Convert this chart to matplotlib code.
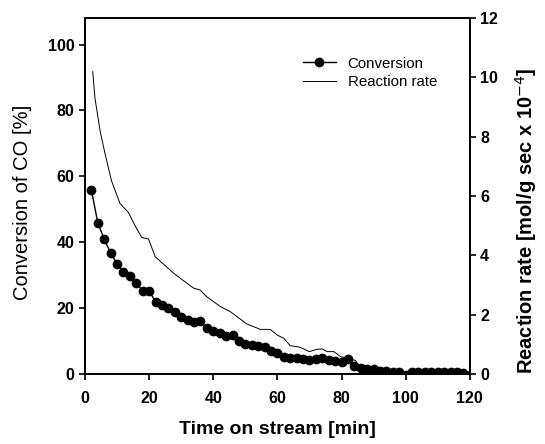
import numpy as np
import matplotlib
matplotlib.use("Agg")
import matplotlib.pyplot as plt

plt.rcParams.update({
    "font.family": ["Liberation Sans", "DejaVu Sans"],
    "font.size": 10,
})

# conversion of CO [%], one point every 2 min
t_conv = np.arange(2, 122, 2)
conversion = [55.8, 45.8, 40.9, 36.7, 33.4, 30.8, 29.8, 27.5, 25.2, 25.2,
              21.9, 20.9, 19.9, 18.9, 17.4, 16.4, 15.8, 16.0, 13.8, 13.1,
              12.3, 11.5, 11.8, 10.0, 9.2, 8.8, 8.4, 8.3, 7.0, 6.4,
              5.2, 4.8, 4.8, 4.4, 4.2, 4.5, 4.8, 4.2, 3.8, 3.6,
              4.6, 2.4, 1.8, 1.6, 1.5, 1.0, 0.8, 0.6, 0.5, -0.2,
              0.5, 0.6, 0.6, 0.7, 0.6, 0.6, 0.5, 0.6, 0.3, -0.2]

# reaction rate [mol/g sec x 10^-4]
t_rate = [2.4, 3.1, 4.7, 6.3, 8.3, 10.9, 13.5, 15.6, 17.7, 19.8, 21.9, 24.5,
          27.6, 30.0, 33.9, 35.9, 38.0, 42.2, 45.3, 47.4, 50.5, 54.7, 57.8,
          59.9, 62.0, 64.0, 67.0, 70.0, 72.4, 74.0, 75.5, 77.6, 79.7, 81.8,
          84.4, 86.0, 90.0, 100.0, 110.0, 120.0]
rate = [10.2, 9.3, 8.2, 7.4, 6.5, 5.75, 5.45, 5.0, 4.6, 4.55, 3.95, 3.7,
        3.4, 3.2, 2.89, 2.83, 2.6, 2.27, 2.1, 1.93, 1.68, 1.5, 1.5,
        1.31, 1.2, 0.95, 0.9, 0.75, 0.83, 0.84, 0.75, 0.75, 0.58, 0.53,
        0.45, 0.15, 0.1, 0.05, 0.05, 0.02]

fig = plt.figure(figsize=(5.45, 4.44), dpi=100)
ax = fig.add_axes([0.156, 0.158, 0.706, 0.801])
ax2 = ax.twinx()

l1, = ax.plot(t_conv, conversion, "-o", color="black", lw=1.0, ms=6,
              label="Conversion")
l2, = ax2.plot(t_rate, rate, "-", color="black", lw=0.7, label="Reaction rate")

ax.set_xlim(0, 120)
ax.set_ylim(0, 108)
ax2.set_ylim(0, 12)
ax.set_xticks(range(0, 121, 20))
ax.set_yticks(range(0, 101, 20))
ax2.set_yticks(range(0, 13, 2))

for a in (ax, ax2):
    a.tick_params(direction="out", length=4, width=1.2, labelsize=11.5)
    for lab in a.get_xticklabels() + a.get_yticklabels():
        lab.set_fontweight("bold")
    for s in a.spines.values():
        s.set_linewidth(1.3)
ax.tick_params(axis="x", pad=8)

ax.set_xlabel("Time on stream [min]", fontsize=14, fontweight="bold")
ax.set_ylabel("Conversion of CO [%]", fontsize=14.5)
ax2.set_ylabel("Reaction rate [mol/g sec x 10$^{-4}$]", fontsize=14.5,
               fontweight="bold")
ax.xaxis.set_label_coords(0.5, -0.133)
ax.yaxis.set_label_coords(-0.138, 0.483)
ax2.yaxis.set_label_coords(1.112, 0.43)

ax.legend(handles=[l1, l2], loc="upper right", bbox_to_anchor=(0.95, 0.93),
          frameon=False, fontsize=10.8, handlelength=2.2, labelspacing=0.3)

fig.savefig("out.png", dpi=100)
